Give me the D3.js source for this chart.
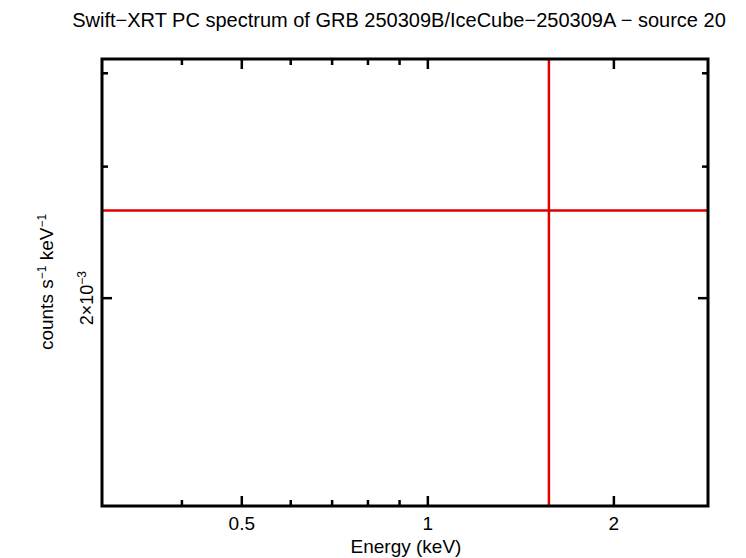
<!DOCTYPE html>
<html>
<head>
<meta charset="utf-8">
<script src="https://cdn.jsdelivr.net/npm/d3@7"></script>
<style>
  body { margin: 0; background: #fff; }
  text { font-family: "Liberation Sans", Arial, sans-serif; fill: #000; }
</style>
</head>
<body>
<div id="chart"></div>
<script>
// data
const energy = [1.57]
const energyLo = [0.2]
const energyHi = [4.0]
const rate = [2.62e-3]
const rateLo = [0.5e-3]
const rateHi = [9e-3]
const xTicks = [0.4, 0.5, 0.6, 0.7, 0.8, 0.9, 1, 2]
const xLabels = [0.5, 1, 2]
const yTicks = [2e-3, 3e-3, 4e-3]

const width = 746, height = 558
const m = { left: 102, right: 38, top: 59, bottom: 52 }

const svg = d3.select('#chart').append('svg')
  .attr('width', width).attr('height', height)

const x = d3.scaleLog().domain([0.297, 2.84]).range([m.left, width - m.right])
const y = d3.scaleLog().domain([1.054e-3, 4.18e-3]).range([height - m.bottom, m.top])

svg.append('clipPath').attr('id', 'clip').append('rect')
  .attr('x', m.left).attr('y', m.top)
  .attr('width', width - m.left - m.right).attr('height', height - m.top - m.bottom)

const pts = energy.map((e, i) => ({ e, lo: energyLo[i], hi: energyHi[i], r: rate[i], rlo: rateLo[i], rhi: rateHi[i] }))
const g = svg.append('g').attr('clip-path', 'url(#clip)')
g.selectAll('.h').data(pts).enter().append('line')
  .attr('x1', d => x(d.lo)).attr('x2', d => x(d.hi))
  .attr('y1', d => y(d.r)).attr('y2', d => y(d.r))
  .attr('stroke', '#e00000').attr('stroke-width', 2.5)
g.selectAll('.v').data(pts).enter().append('line')
  .attr('x1', d => x(d.e)).attr('x2', d => x(d.e))
  .attr('y1', d => y(d.rlo)).attr('y2', d => y(d.rhi))
  .attr('stroke', '#e00000').attr('stroke-width', 2.5)

const tick = v => xLabels.includes(v) ? 10 : 6
const axes = svg.append('g').attr('stroke', '#000').attr('stroke-width', 2.5)
xTicks.forEach(v => {
  const l = tick(v)
  axes.append('line').attr('x1', x(v)).attr('x2', x(v)).attr('y1', height - m.bottom).attr('y2', height - m.bottom - l)
  axes.append('line').attr('x1', x(v)).attr('x2', x(v)).attr('y1', m.top).attr('y2', m.top + l)
})
yTicks.forEach(v => {
  const l = v === 2e-3 ? 10 : 6
  axes.append('line').attr('x1', m.left).attr('x2', m.left + l).attr('y1', y(v)).attr('y2', y(v))
  axes.append('line').attr('x1', width - m.right).attr('x2', width - m.right - l).attr('y1', y(v)).attr('y2', y(v))
})
axes.append('rect').attr('x', m.left).attr('y', m.top)
  .attr('width', width - m.left - m.right).attr('height', height - m.top - m.bottom)
  .attr('fill', 'none').attr('stroke-width', 3)

svg.selectAll('.xl').data(xLabels).enter().append('text')
  .attr('x', d => x(d)).attr('y', 530).attr('text-anchor', 'middle')
  .attr('font-size', 19).text(d => d)

svg.append('text').attr('x', 406).attr('y', 553).attr('text-anchor', 'middle')
  .attr('font-size', 19).text('Energy (keV)')

svg.append('text').attr('transform', `translate(93,${y(2e-3)}) rotate(-90)`)
  .attr('text-anchor', 'middle').attr('font-size', 18)
  .html('2×10<tspan dy="-7" font-size="12">−3</tspan>')

svg.append('text').attr('transform', 'translate(53,282) rotate(-90)')
  .attr('text-anchor', 'middle').attr('font-size', 19)
  .html('counts s<tspan dy="-7" font-size="12">−1</tspan><tspan dy="7"> keV</tspan><tspan dy="-7" font-size="12">−1</tspan>')

svg.append('text').attr('x', 399).attr('y', 27).attr('text-anchor', 'middle')
  .attr('font-size', 20).text('Swift−XRT PC spectrum of GRB 250309B/IceCube−250309A − source 20')
</script>
</body>
</html>
